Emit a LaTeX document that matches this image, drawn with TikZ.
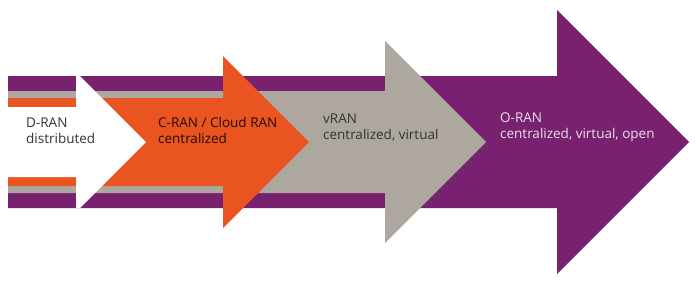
\documentclass[tikz,border=0pt]{standalone}
\usepackage{fontspec}
\setmainfont{Open Sans}
\usetikzlibrary{positioning}
\definecolor{ranpurple}{HTML}{77216F}
\definecolor{ranorange}{HTML}{E95420}
\definecolor{rangrey}{HTML}{AEA79F}
\definecolor{randark}{HTML}{333333}
\definecolor{ranlight}{HTML}{EADFE8}

\begin{document}
\begin{tikzpicture}[
  x=1pt, y=-1pt,
  lbl/.style={anchor=base west, align=left, inner sep=0pt, font=\fontsize{13.5}{15.2}\selectfont},
]
  \useasboundingbox (0,0) rectangle (696,282);
  % nested arrows, biggest first
  \fill[ranpurple] (8,76) -- (557,76) -- (557,10) -- (689,142) -- (557,274) -- (557,208) -- (8,208) -- cycle;
  \fill[rangrey] (8,91) -- (385,91) -- (385,41) -- (486,142) -- (385,243) -- (385,193) -- (8,193) -- cycle;
  \fill[ranorange] (8,98) -- (223,98) -- (223,56) -- (309,142) -- (223,228) -- (223,186) -- (8,186) -- cycle;
  \fill[white] (8,107) -- (80,107) -- (80,76) -- (146,142) -- (80,208) -- (80,177) -- (8,177) -- cycle;
  \fill[white] (76,76) rectangle (80,208);

  \node[lbl, text=randark] (dran) at (26,143) {D-RAN\\distributed};
  \node[lbl, text=black!85!ranorange] (cran) at (158,143) {C-RAN / Cloud RAN\\centralized};
  \node[lbl, text=randark] (vran) at (323,139) {vRAN\\centralized, virtual};
  \node[lbl, text=ranlight] (oran) at (500,138) {O-RAN\\centralized, virtual, open};
\end{tikzpicture}
\end{document}
